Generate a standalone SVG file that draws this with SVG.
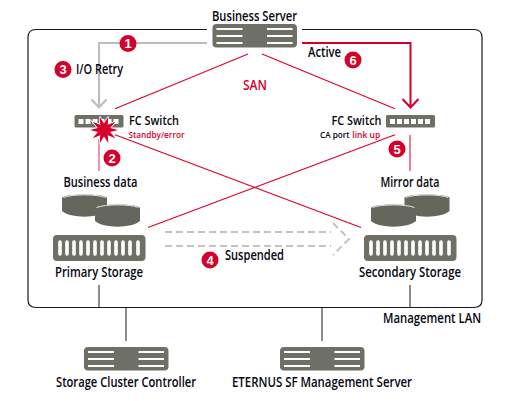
<svg xmlns="http://www.w3.org/2000/svg" width="508" height="401" viewBox="0 0 508 401">
<style>
text{font-family:"Open Sans","Liberation Sans",sans-serif;font-size:13.500px;fill:#05050f;font-weight:600}
.ctr{text-anchor:middle}
.dev{fill:#6f7065}
.w{stroke:#fff;stroke-width:2;fill:none}
.wb{fill:#fff}
.san{stroke:#e2002b;stroke-width:1.200;fill:none}
.badge{fill:#d4002a}
.bt{fill:#fff;font-size:13px;font-weight:700;text-anchor:middle;font-family:"Liberation Sans",sans-serif}
.lan{stroke:#5c5c5c;stroke-width:1.400;fill:none}
.fc{font-size:13px}
.sm{font-size:9px}
.red{fill:#d4002a}
</style>
<defs>
<g id="srv"><rect class="dev" width="84.500" height="23.500" rx="4"/><path class="w" d="M4 5H30M4 12H30M4 19H30M54.500 5H80M54.500 12H80M54.500 19H80"/></g>
<g id="sto"><rect class="dev" width="92.500" height="26" rx="4"/><path d="M7 7V19M14 7V19M21 7V19M28 7V19M35 7V19M42 7V19M49 7V19M56 7V19M63 7V19M70 7V19M77 7V19M85 7V19" stroke="#fff" stroke-width="3.600" stroke-linecap="round" fill="none"/></g>
<g id="dsk"><path d="M0 4V17C8 24.500 37 24.500 45 17V4Z" fill="#66675c"/><ellipse cx="22.500" cy="4" rx="22.500" ry="3.500" fill="#66675c"/><path d="M1.500 3.500C10 0 35 0 43.500 3.500" fill="none" stroke="#e6e6e0" stroke-width="1"/></g>
<g id="swi"><rect class="dev" width="49" height="12.500" rx="1.500"/><path d="M4 4h5v5h-5zM11 4h5v5h-5zM18 4h5v5h-5zM25 4h5v5h-5zM32 4h5v5h-5zM39 4h5v5h-5z" class="wb"/></g>
</defs>

<g id="frame"><path class="lan" style="stroke:#1a1a1a;stroke-width:1.200" d="M207 29.500H36Q28 29.500 28 37.500V300Q28 307.500 36 307.500H474Q482 307.500 482 300V37.500Q482 29.500 474 29.500H302"/></g>

<g id="connectors">
<path d="M207 43H99V107M91.500 99.500L99 107.500L106.500 99.500" fill="none" stroke="#bdbdb8" stroke-width="2"/>
<path d="M302 43H410.500V107M402.500 99L410.500 107.500L418.500 99" fill="none" stroke="#d4002a" stroke-width="2"/>
<path class="san" d="M248 54L115 108.700M262 54L395 108.700M115 134.700L361 227.500M395 134.700L148 227.500"/>
<path d="M99 139V171" stroke="#e8738a" stroke-width="1.500" fill="none"/>
<path d="M410 135V171" stroke="#e8506e" stroke-width="1.500" fill="none"/>
<path class="lan" d="M99 285V307.500M410 285V307.500M126 308V341M322 308V341"/>
<path d="M165 232H331M165 246H331M333 223L349 239L333 255" fill="none" stroke="#c4c4bf" stroke-width="2" stroke-dasharray="7 4"/>
</g>

<g id="business-server"><use href="#srv" x="212.500" y="24"/><text class="ctr" x="254.500" y="20.500" textLength="85" lengthAdjust="spacingAndGlyphs">Business Server</text></g>

<g id="fc-switch-left"><use href="#swi" x="74.500" y="115"/>
<path d="M118 130L110.200 132L115.300 138.200L107.800 135.300L108.300 143.300L104 136.500L99.700 143.300L100.200 135.300L92.700 138.200L97.800 132L90 130L97.800 128L92.700 121.800L100.200 124.700L99.700 116.700L104 123.500L108.300 116.700L107.800 124.700L115.300 121.800L110.200 128Z" fill="#d4002a" stroke="#fff" stroke-width="1.500" paint-order="stroke"/>
<text class="fc" x="129" y="125" textLength="50" lengthAdjust="spacingAndGlyphs">FC Switch</text>
<text class="sm red" x="128.500" y="138" textLength="56" lengthAdjust="spacingAndGlyphs">Standby/error</text></g>

<g id="fc-switch-right"><use href="#swi" x="386" y="115"/>
<text class="fc" x="331.500" y="125" textLength="50" lengthAdjust="spacingAndGlyphs">FC Switch</text>
<text class="sm" x="320" y="138" textLength="29.500" lengthAdjust="spacingAndGlyphs">CA port</text>
<text class="sm red" x="352.300" y="138" textLength="28" lengthAdjust="spacingAndGlyphs">link up</text></g>

<g id="business-data"><text x="63.500" y="187" textLength="74" lengthAdjust="spacingAndGlyphs">Business data</text><use href="#dsk" x="62" y="194"/><use href="#dsk" x="95" y="204"/></g>
<g id="mirror-data"><text x="380.500" y="187" textLength="59" lengthAdjust="spacingAndGlyphs">Mirror data</text><use href="#dsk" x="404.500" y="194"/><use href="#dsk" x="371" y="204"/></g>

<g id="primary-storage"><use href="#sto" x="53" y="235"/><text x="55" y="277" textLength="88" lengthAdjust="spacingAndGlyphs">Primary Storage</text></g>
<g id="secondary-storage"><use href="#sto" x="364" y="235"/><text x="359" y="277" textLength="102" lengthAdjust="spacingAndGlyphs">Secondary Storage</text></g>

<g id="storage-cluster-controller"><use href="#srv" x="84" y="347"/><text x="56" y="387" textLength="140" lengthAdjust="spacingAndGlyphs">Storage Cluster Controller</text></g>
<g id="eternus-sf"><use href="#srv" x="280" y="347"/><text x="232" y="387" textLength="180" lengthAdjust="spacingAndGlyphs">ETERNUS SF Management Server</text></g>

<g id="labels">
<text x="76" y="74" textLength="47" lengthAdjust="spacingAndGlyphs">I/O Retry</text>
<text x="308" y="57" textLength="33" lengthAdjust="spacingAndGlyphs">Active</text>
<text class="red" x="243" y="90" textLength="24" lengthAdjust="spacingAndGlyphs">SAN</text>
<text x="225" y="260" textLength="59" lengthAdjust="spacingAndGlyphs">Suspended</text>
<text x="383" y="323" textLength="98" lengthAdjust="spacingAndGlyphs">Management LAN</text>
</g>

<g id="badges">
<circle class="badge" cx="128" cy="43.500" r="8.500"/><text class="bt" x="128" y="48">1</text>
<circle class="badge" cx="63" cy="69.500" r="8.500"/><text class="bt" x="63" y="74">3</text>
<circle class="badge" cx="112" cy="158" r="8.500"/><text class="bt" x="112" y="162.500">2</text>
<circle class="badge" cx="353" cy="60" r="8.500"/><text class="bt" x="353" y="64.500">6</text>
<circle class="badge" cx="397" cy="149" r="8.500"/><text class="bt" x="397" y="153.500">5</text>
<circle class="badge" cx="210" cy="260" r="8.500"/><text class="bt" x="210" y="264.500">4</text>
</g>
</svg>
